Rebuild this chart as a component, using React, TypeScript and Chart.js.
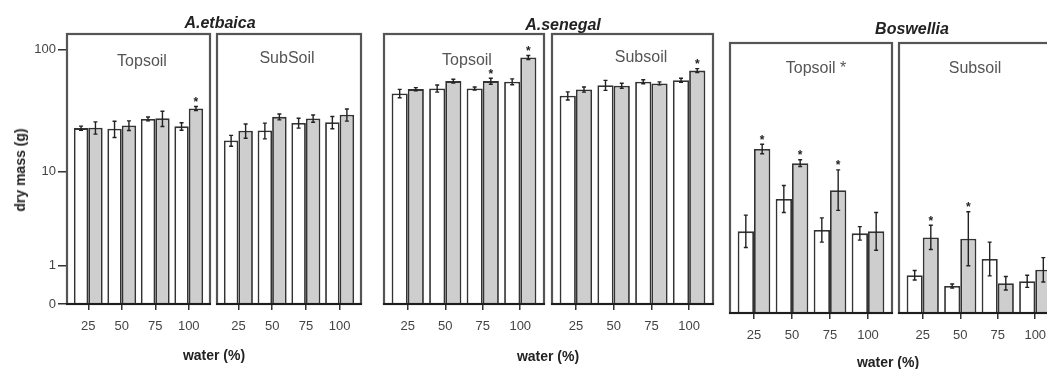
import React, { useEffect, useRef } from "react";
import { Chart, registerables } from "chart.js";
Chart.register(...registerables);

// ---------- data ----------
const waterLevels = ["25", "50", "75", "100"];
const yTickValues = [0, 1, 10, 100];

const etbaicaTopWhite = [23.3, 23.0, 27.7, 24.1];
const etbaicaTopWhiteErr = [0.9, 3.5, 1.0, 1.7];
const etbaicaTopGrey = [23.5, 24.5, 28.0, 33.7];
const etbaicaTopGreyErr = [2.7, 2.2, 4.0, 1.3];
const etbaicaTopStars = [0, 0, 0, 1];

const etbaicaSubWhite = [18.4, 22.3, 25.7, 26.0];
const etbaicaSubWhiteErr = [1.9, 3.3, 2.4, 3.0];
const etbaicaSubGrey = [22.2, 28.8, 27.9, 30.0];
const etbaicaSubGreyErr = [3.0, 1.6, 1.9, 3.4];
const etbaicaSubStars = [0, 0, 0, 0];

const senegalTopWhite = [44.6, 48.9, 48.9, 55.4];
const senegalTopWhiteErr = [3.5, 3.2, 1.4, 3.0];
const senegalTopGrey = [48.3, 56.0, 56.0, 86.5];
const senegalTopGreyErr = [1.4, 2.0, 3.1, 3.2];
const senegalTopStars = [0, 0, 1, 1];

const senegalSubWhite = [42.7, 52.0, 55.4, 57.0];
const senegalSubWhiteErr = [3.2, 4.8, 2.1, 2.1];
const senegalSubGrey = [48.0, 51.5, 53.7, 68.0];
const senegalSubGreyErr = [2.3, 2.4, 1.5, 2.5];
const senegalSubStars = [0, 0, 0, 1];

const boswelliaTopWhite = [1.21, 1.69, 1.23, 1.18];
const boswelliaTopWhiteErr = [0.24, 0.2, 0.18, 0.1];
const boswelliaTopGrey = [2.43, 2.22, 1.82, 1.21];
const boswelliaTopGreyErr = [0.07, 0.05, 0.3, 0.28];
const boswelliaTopStars = [1, 1, 1, 0];

const boswelliaSubWhite = [0.56, 0.4, 0.8, 0.47];
const boswelliaSubWhiteErr = [0.07, 0.03, 0.25, 0.09];
const boswelliaSubGrey = [1.12, 1.1, 0.44, 0.64];
const boswelliaSubGreyErr = [0.18, 0.4, 0.1, 0.18];
const boswelliaSubStars = [1, 1, 0, 0];

// ---------- layout / style ----------
const FONT = '"Liberation Sans", Arial, Helvetica, sans-serif';
const LOG_Y_MAX = 133;
const LIN_Y_MAX = 4;

type PanelSpec = {
  frame: number[];
  white: number[];
  whiteErr: number[];
  grey: number[];
  greyErr: number[];
  stars: number[];
  log: boolean;
  showY: boolean;
  padX: number;
};

const panels: PanelSpec[] = [
  { frame: [67, 34, 210, 304], white: etbaicaTopWhite, whiteErr: etbaicaTopWhiteErr, grey: etbaicaTopGrey, greyErr: etbaicaTopGreyErr, stars: etbaicaTopStars, log: true, showY: true, padX: 4.5 },
  { frame: [217, 34, 361, 304], white: etbaicaSubWhite, whiteErr: etbaicaSubWhiteErr, grey: etbaicaSubGrey, greyErr: etbaicaSubGreyErr, stars: etbaicaSubStars, log: true, showY: false, padX: 4.5 },
  { frame: [384, 34, 544, 304], white: senegalTopWhite, whiteErr: senegalTopWhiteErr, grey: senegalTopGrey, greyErr: senegalTopGreyErr, stars: senegalTopStars, log: true, showY: false, padX: 5 },
  { frame: [552, 34, 713, 304], white: senegalSubWhite, whiteErr: senegalSubWhiteErr, grey: senegalSubGrey, greyErr: senegalSubGreyErr, stars: senegalSubStars, log: true, showY: false, padX: 5 },
  { frame: [730, 43, 892, 313], white: boswelliaTopWhite, whiteErr: boswelliaTopWhiteErr, grey: boswelliaTopGrey, greyErr: boswelliaTopGreyErr, stars: boswelliaTopStars, log: false, showY: false, padX: 5 },
  { frame: [899, 43, 1059, 313], white: boswelliaSubWhite, whiteErr: boswelliaSubWhiteErr, grey: boswelliaSubGrey, greyErr: boswelliaSubGreyErr, stars: boswelliaSubStars, log: false, showY: false, padX: 5 },
];

const toLog1p = (v: number) => Math.log10(1 + v);
const ident = (v: number) => v;

function PanelChart({ p }: { p: PanelSpec }) {
  const ref = useRef<HTMLCanvasElement>(null);
  const [fl, ft, fr, fb] = p.frame;
  const W = fr - fl;
  const H = fb - ft;
  const M = 4;
  const Y_AXIS_W = 60;
  const leftExtra = p.showY ? Y_AXIS_W : M;
  const BOTTOM = 44;
  const cw = W + leftExtra + M;
  const ch = H + M + BOTTOM;

  useEffect(() => {
    const tf = p.log ? toLog1p : ident;
    const step = (W - 2 * p.padX) / 4;
    const xMin = 0.5 - p.padX / step;
    const xMax = 4.5 + p.padX / step;
    const yMax = p.log ? tf(LOG_Y_MAX) : LIN_Y_MAX;

    const mk = (vals: number[]) => vals.map((v, i) => ({ x: i + 1, y: tf(v) }));

    const framePlugin = {
      id: "frame",
      afterDraw(chart: any) {
        const { ctx, chartArea: a } = chart;
        ctx.save();
        ctx.strokeStyle = "#555";
        ctx.lineWidth = 2.2;
        ctx.strokeRect(a.left, a.top, a.right - a.left, a.bottom - a.top);
        ctx.strokeStyle = "#1e1e1e";
        ctx.lineWidth = 2.2;
        ctx.beginPath();
        ctx.moveTo(a.left - 1, a.bottom);
        ctx.lineTo(a.right + 1, a.bottom);
        ctx.stroke();
        ctx.restore();
      },
    };

    const errPlugin = {
      id: "errbars",
      afterDatasetsDraw(chart: any) {
        const ctx = chart.ctx;
        const ys = chart.scales.y;
        const series = [
          { vals: p.white, errs: p.whiteErr, stars: null as number[] | null },
          { vals: p.grey, errs: p.greyErr, stars: p.stars },
        ];
        ctx.save();
        series.forEach((s, d) => {
          const meta = chart.getDatasetMeta(d);
          meta.data.forEach((el: any, i: number) => {
            const v = s.vals[i];
            const e = s.errs[i];
            const yT = ys.getPixelForValue(tf(v + e));
            const yB = ys.getPixelForValue(tf(Math.max(v - e, 0)));
            const x = el.x;
            ctx.strokeStyle = "#222";
            ctx.lineWidth = 1.4;
            ctx.beginPath();
            ctx.moveTo(x, yT);
            ctx.lineTo(x, yB);
            ctx.moveTo(x - 2, yT);
            ctx.lineTo(x + 2, yT);
            ctx.moveTo(x - 2, yB);
            ctx.lineTo(x + 2, yB);
            ctx.stroke();
            if (s.stars && s.stars[i]) {
              ctx.fillStyle = "#222";
              ctx.font = `bold 12px ${FONT}`;
              ctx.textAlign = "center";
              ctx.textBaseline = "middle";
              ctx.fillText("*", x, yT - 4);
            }
          });
        });
        ctx.restore();
      },
    };

    const chart = new Chart(ref.current as HTMLCanvasElement, {
      type: "bar",
      data: {
        datasets: [
          {
            label: "white",
            data: mk(p.white) as any,
            backgroundColor: "#ffffff",
            borderColor: "#333333",
            borderWidth: 1.8,
            categoryPercentage: 0.86,
            barPercentage: 1,
          },
          {
            label: "grey",
            data: mk(p.grey) as any,
            backgroundColor: "#cecece",
            borderColor: "#333333",
            borderWidth: 1.8,
            categoryPercentage: 0.86,
            barPercentage: 1,
          },
        ],
      },
      options: {
        animation: false,
        responsive: false,
        devicePixelRatio: 1,
        layout: { padding: { top: M, right: M, left: p.showY ? 0 : M, bottom: 0 } },
        plugins: { legend: { display: false }, tooltip: { enabled: false }, title: { display: false } },
        scales: {
          x: {
            type: "linear",
            min: xMin,
            max: xMax,
            offset: false,
            afterBuildTicks: (s: any) => {
              s.ticks = waterLevels.map((_, i) => ({ value: i + 1 }));
            },
            ticks: {
              callback: (_v: any, idx: number) => waterLevels[idx],
              font: { family: FONT, size: 13 },
              color: "#444",
              padding: 9,
              autoSkip: false,
              maxRotation: 0,
            },
            grid: { display: true, offset: false, drawOnChartArea: false, drawTicks: true, tickLength: 6, color: "#333", lineWidth: 1.5 },
            border: { display: false },
            afterFit: (s: any) => {
              s.height = BOTTOM;
              s.paddingLeft = 0;
              s.paddingRight = 0;
              s.paddingTop = 0;
              s.paddingBottom = 0;
            },
          } as any,
          y: {
            type: "linear",
            display: p.showY,
            min: 0,
            max: yMax,
            afterBuildTicks: (s: any) => {
              s.ticks = yTickValues.map((v) => ({ value: tf(v) }));
            },
            ticks: {
              callback: (_v: any, idx: number) => String(yTickValues[idx]),
              font: { family: FONT, size: 13 },
              color: "#444",
              padding: 2,
            },
            grid: { display: true, offset: false, drawOnChartArea: false, drawTicks: true, tickLength: 9, color: "#333", lineWidth: 1.5 },
            border: { display: false },
            afterFit: (s: any) => {
              s.width = p.showY ? Y_AXIS_W : 0;
              s.paddingTop = 0;
              s.paddingBottom = 0;
              s.paddingLeft = 0;
              s.paddingRight = 0;
            },
          } as any,
        },
      },
      plugins: [framePlugin, errPlugin],
    });
    return () => chart.destroy();
  }, []);

  return (
    <canvas
      ref={ref}
      width={cw}
      height={ch}
      style={{ position: "absolute", left: fl - leftExtra, top: ft - M, width: cw, height: ch }}
    />
  );
}

function Label({ x, y, text, style }: { x: number; y: number; text: string; style: React.CSSProperties }) {
  return (
    <div
      style={{
        position: "absolute",
        left: x,
        top: y,
        transform: "translate(-50%, -50%)",
        whiteSpace: "nowrap",
        lineHeight: 1,
        fontFamily: FONT,
        ...style,
      }}
    >
      {text}
    </div>
  );
}

const speciesStyle: React.CSSProperties = { fontWeight: "bold", fontStyle: "italic", fontSize: 16, color: "#222" };
const soilStyle: React.CSSProperties = { fontSize: 16, color: "#555" };
const axisTitleStyle: React.CSSProperties = { fontWeight: "bold", fontSize: 14, color: "#222" };

export default function App() {
  return (
    <div
      style={{
        position: "absolute",
        left: 0,
        top: 0,
        width: 1047,
        height: 369,
        overflow: "hidden",
        background: "#fff",
      }}
    >
      {panels.map((p, i) => (
        <PanelChart key={i} p={p} />
      ))}
      <Label x={220} y={23} text="A.etbaica" style={speciesStyle} />
      <Label x={563} y={25} text="A.senegal" style={speciesStyle} />
      <Label x={912} y={29} text="Boswellia" style={speciesStyle} />

      <Label x={142} y={61} text="Topsoil" style={soilStyle} />
      <Label x={287} y={58} text="SubSoil" style={soilStyle} />
      <Label x={467} y={60} text="Topsoil" style={soilStyle} />
      <Label x={641} y={57} text="Subsoil" style={soilStyle} />
      <Label x={816} y={68} text="Topsoil *" style={soilStyle} />
      <Label x={975} y={68} text="Subsoil" style={soilStyle} />

      <Label x={214} y={355} text="water (%)" style={axisTitleStyle} />
      <Label x={548} y={356} text="water (%)" style={axisTitleStyle} />
      <Label x={888} y={362} text="water (%)" style={axisTitleStyle} />

      <div
        style={{
          position: "absolute",
          left: 20,
          top: 170,
          transform: "translate(-50%, -50%) rotate(-90deg)",
          whiteSpace: "nowrap",
          lineHeight: 1,
          fontFamily: FONT,
          ...axisTitleStyle,
        }}
      >
        dry mass (g)
      </div>
    </div>
  );
}
